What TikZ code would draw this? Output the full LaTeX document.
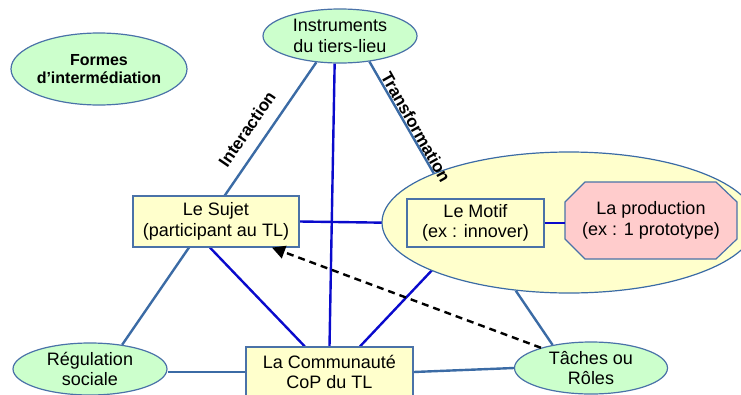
\documentclass[tikz,border=0pt]{standalone}
\usepackage{fontspec}
\setmainfont{Liberation Sans}
\usetikzlibrary{shapes.geometric,arrows.meta,backgrounds}
\definecolor{lineblue}{HTML}{3B6BA5}
\definecolor{darkblue}{HTML}{0A0ACC}
\definecolor{greenfill}{HTML}{CCFFCC}
\definecolor{yellowfill}{HTML}{FFFFCC}
\definecolor{pinkfill}{HTML}{FFCCCC}
\definecolor{bordercol}{HTML}{4A72A8}
\begin{document}
\begin{tikzpicture}[x=1pt,y=-1pt,
  txt/.style={font=\fontsize{18}{20.5}\selectfont, align=center, inner sep=0pt},
  oval/.style={txt, ellipse, draw=bordercol, line width=1.2pt, fill=greenfill},
  boxnode/.style={txt, rectangle, draw=bordercol, line width=1.2pt, fill=yellowfill},
  sline/.style={draw=lineblue, line width=2.4pt},
  bline/.style={draw=darkblue, line width=2.4pt},
  lbl/.style={font=\bfseries\fontsize{17}{19}\selectfont, inner sep=0pt},
  dasharrow/.style={draw=black, line width=2.4pt, dash pattern=on 7pt off 5pt, -{Triangle[length=13pt,width=13pt]}}
]
\useasboundingbox (0,0) rectangle (741,394);

\node[oval, minimum width=158, minimum height=72, font=\bfseries\fontsize{16}{18}\selectfont] (formes) at (99,69) {Formes\\d\char"0027 intermédiation};
\node[oval, minimum width=154, minimum height=54] (instr) at (340,36) {Instruments\\du tiers-lieu};
\node[txt, ellipse, draw=lineblue, line width=1.2pt, fill=yellowfill, minimum width=374, minimum height=141] (big) at (569,222.5) {};
\node[boxnode, minimum width=166, minimum height=51] (suj) at (216,221.5) {Le Sujet\\(participant au TL)};
\node[boxnode, minimum width=137, minimum height=48] (mot) at (475.5,223) {Le Motif\\(ex : innover)};
\path[draw=bordercol, fill=pinkfill, line width=1.2pt] (565,202) -- (585,182) -- (716,182) -- (737,202) -- (737,239) -- (716,259) -- (585,259) -- (565,239) -- cycle;
\node[txt, minimum width=172, minimum height=77] (prod) at (651,220.5) {La production\\(ex : 1 prototype)};
\node[oval, minimum width=154, minimum height=52] (reg) at (90,369) {Régulation\\sociale};
\node[boxnode, minimum width=167, minimum height=50] (com) at (329.5,372) {La Communauté\\CoP du TL};
\node[oval, minimum width=153, minimum height=52] (tach) at (591,368) {Tâches ou\\Rôles};

\begin{scope}[on background layer]
\draw[sline] (instr.228) -- (reg.37);
\draw[sline] (instr.319) -- (big.160);
\draw[sline] (big.232) -- (tach.149);
\draw[sline] (com.west) -- (com.west -| reg.east);
\draw[sline] (com.east) -- (tach.west);
\draw[bline] (instr.259) -- (com.north);
\draw[bline] (suj.east) -- (mot.west);
\draw[bline] (suj.257) -- (com.134);
\draw[bline] (com.40) -- (mot.228);
\end{scope}
\draw[bline] (mot.east) -- (mot.east -| prod.west);

\draw[dasharrow] (tach.158) -- (suj.335);

\node[lbl, rotate=55.5] (interaction) at (247,129) {Interaction};
\node[lbl, rotate=-60.6] (transfo) at (416,127) {Transformation};
\end{tikzpicture}
\end{document}
